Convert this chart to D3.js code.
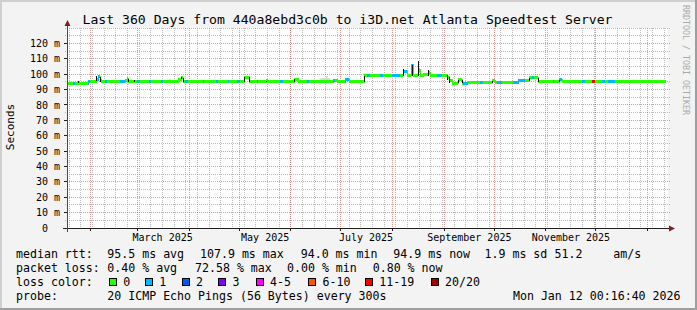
<!DOCTYPE html>
<html><head><meta charset="utf-8">
<script src="https://cdn.jsdelivr.net/npm/d3@7"></script>
<style>
html,body{margin:0;padding:0;background:#f3f3f3;}
svg{display:block;}
text{font-family:"DejaVu Sans Mono",monospace;fill:#000;}
</style></head><body>
<svg id="chart" width="697" height="310"></svg>
<script>
// ---------------- data ----------------
const titleText = "Last 360 Days from 440a8ebd3c0b to i3D.net Atlanta Speedtest Server";
const yAxisTitle = "Seconds";
const watermark = "RRDTOOL / TOBI OETIKER";
const windowStart = "2025-01-17T00:16:40Z";
const windowEnd = "2026-01-12T00:16:40Z";
const yTickValues = [0, 10, 20, 30, 40, 50, 60, 70, 80, 90, 100, 110, 120];
const yTickLabels = ["0", "10 m", "20 m", "30 m", "40 m", "50 m", "60 m", "70 m", "80 m", "90 m", "100 m", "110 m", "120 m"];
const monthLabels = ["March 2025", "May 2025", "July 2025", "September 2025", "November 2025"];
const monthLabelDates = ["2025-03-16T00", "2025-05-16T12", "2025-07-16T00", "2025-09-16T00", "2025-11-16T00"];

// median rtt (ms), step segments starting at each date, with pings lost (of 20)
const segDates = [
 "2025-01-17T00","2025-01-21T00","2025-01-22T12","2025-01-30T12","2025-01-31T12","2025-02-04T00","2025-02-05T00","2025-02-06T12",
 "2025-02-07T00","2025-02-09T12","2025-02-10T12","2025-02-18T12","2025-02-21T12","2025-02-22T12","2025-02-23T12","2025-02-28T12",
 "2025-03-02T12","2025-03-08T00","2025-03-09T00","2025-03-15T00","2025-03-16T00","2025-03-25T12","2025-03-27T00","2025-03-28T12",
 "2025-03-29T12","2025-03-31T00","2025-04-09T00","2025-04-10T00","2025-04-17T00","2025-04-18T00","2025-04-24T00","2025-04-25T00",
 "2025-04-29T12","2025-05-01T12","2025-05-04T00","2025-05-07T00","2025-05-11T12","2025-05-12T12","2025-05-17T00","2025-05-18T12",
 "2025-05-25T12","2025-05-27T00","2025-06-03T00","2025-06-05T12","2025-06-10T12","2025-06-12T00","2025-06-26T00","2025-06-27T12",
 "2025-06-28T12","2025-07-03T12","2025-07-06T00","2025-07-15T00","2025-07-16T12","2025-07-18T12","2025-07-24T12","2025-07-26T00",
 "2025-07-31T12","2025-08-05T12","2025-08-07T00","2025-08-09T12","2025-08-12T00","2025-08-13T12","2025-08-16T00","2025-08-17T12",
 "2025-08-19T00","2025-08-22T00","2025-08-23T12","2025-08-27T12","2025-08-30T12","2025-09-02T12","2025-09-04T00","2025-09-05T12",
 "2025-09-09T12","2025-09-11T12","2025-09-12T00","2025-09-15T00","2025-09-22T12","2025-09-24T12","2025-09-29T12","2025-10-01T12",
 "2025-10-02T12","2025-10-05T12","2025-10-12T12","2025-10-15T12","2025-10-19T12","2025-10-22T00","2025-10-23T12","2025-10-25T00",
 "2025-10-27T12","2025-11-05T00","2025-11-06T00","2025-11-09T00","2025-11-10T12","2025-11-22T12","2025-11-24T12","2025-11-28T12",
 "2025-11-30T12","2025-12-04T12","2025-12-06T12","2025-12-08T12","2025-12-12T12"
];
const segMedian = [
 94.3,94.3,94.0,95.0,95.2,96.5,98.3,96.3,
 95.0,95.0,95.0,95.0,96.0,97.0,95.0,95.0,
 95.0,95.0,95.0,95.0,95.0,96.5,97.7,95.0,
 95.0,95.0,95.0,95.0,95.0,95.0,95.0,95.0,
 95.0,95.0,98.0,95.0,95.0,95.0,95.8,95.0,
 95.0,95.0,96.7,95.0,95.0,95.0,96.0,96.0,
 95.0,96.5,95.0,99.0,99.0,99.0,99.0,99.0,
 99.0,99.0,101.8,99.2,105.8,99.4,102.7,99.0,
 100.0,101.0,99.5,99.5,99.5,98.0,96.0,94.3,
 96.3,94.3,94.3,94.6,94.7,94.7,95.8,94.4,
 94.4,94.4,94.4,95.8,95.8,97.7,97.7,97.7,
 95.1,95.1,95.1,96.5,95.1,95.1,95.1,95.1,
 95.1,95.1,95.1,95.1,95.1
];
const segLoss = [
 0,1,0,1,0,0,1,0,
 0,1,0,1,0,0,0,1,
 0,1,0,1,0,0,0,0,
 1,0,1,0,1,0,1,0,
 1,0,0,0,1,0,0,0,
 1,0,0,0,1,0,1,0,
 0,1,0,0,1,0,1,0,
 1,0,1,0,1,0,0,0,
 0,0,0,1,0,0,0,0,
 0,0,1,0,1,0,0,0,
 1,0,1,1,0,0,1,0,
 0,1,0,1,0,1,0,12,
 0,1,0,1,0
];

// dark smoke (spread of pings) where the median jumps
const darkDates = ["2025-01-24T12","2025-02-04T00","2025-02-06T12","2025-02-23T00","2025-02-27T00","2025-03-27T00","2025-03-28T12",
 "2025-05-04T00","2025-05-07T00","2025-05-17T00","2025-06-03T00","2025-07-15T00","2025-08-07T00","2025-08-12T12","2025-08-16T00",
 "2025-08-22T00","2025-09-02T12","2025-09-04T00","2025-09-09T12","2025-09-11T12","2025-09-29T12","2025-10-22T00","2025-10-27T12","2025-11-09T00"];
const darkLow  = [94.0,95.0,95.0,95.0,95.0,96.5,95.0,95.0,95.0,95.0,95.0,95.0,99.0,99.0,99.0,99.3,96.0,94.3,94.3,94.3,94.7,95.8,95.1,95.1];
const darkHigh = [95.5,98.5,98.3,97.0,96.5,98.0,97.7,98.2,98.0,95.8,96.7,99.0,103.4,106.0,108.6,103.0,99.5,98.0,96.5,96.3,95.8,97.7,97.7,96.5];

// light smoke
const lightDates = ["2025-03-20T00","2025-03-21T00","2025-06-18T12","2025-06-20T12","2025-06-22T00","2025-06-23T00","2025-06-24T12"];
const lightHigh  = [97.0, 95.0, 97.3, 97.5, 98.8, 97.4, 95.0];

const statHeads = ["median rtt:", "packet loss:", "loss color:", "probe:"];
const rttStats = ["95.5 ms avg", "107.9 ms max", "94.0 ms min", "94.9 ms now", "1.9 ms sd", "51.2", "am/s"];
const lossStats = ["0.40 % avg", "72.58 % max", "0.00 % min", "0.80 % now"];
const lossBins = ["0", "1", "2", "3", "4-5", "6-10", "11-19", "20/20"];
const lossColors = ["#26ff00", "#00b8ff", "#0059ff", "#7e00ff", "#ff00ff", "#ff5500", "#ff0000", "#a10000"];
const probeText = "20 ICMP Echo Pings (56 Bytes) every 300s";
const stampText = "Mon Jan 12 00:16:40 2026";

// ---------------- drawing ----------------
const W = 697, H = 310;
const svg = d3.select("#chart");
const pDate = d3.utcParse("%Y-%m-%dT%H");
const t0 = d3.isoParse(windowStart), t1 = d3.isoParse(windowEnd);
const x = d3.scaleUtc().domain([t0, t1]).range([66, 666]);
const y = d3.scaleLinear().domain([0, 130]).range([228, 28]);
const L = 67, R = 668, T = 28, B = 228;
const px = v => Math.floor(v) + 0.5;

function lossBin(n) {
  if (n <= 3) return n;
  if (n <= 5) return 4;
  if (n <= 10) return 5;
  if (n <= 19) return 6;
  return 7;
}

// background + frame
svg.append("rect").attr("width", W).attr("height", H).attr("fill", "#f3f3f3");
svg.append("path").attr("d", `M0,0H${W}V2H2V${H}H0Z`).attr("fill", "#cfcfcf");
svg.append("path").attr("d", `M${W},${H}H0V${H-2}H${W-2}V0H${W}Z`).attr("fill", "#9e9e9e");

// canvas
svg.append("rect").attr("x", L).attr("y", T).attr("width", R - L).attr("height", B - T).attr("fill", "#fff");

const grid = svg.append("g").attr("shape-rendering", "crispEdges");
const minorCol = "rgba(143,143,143,0.6)", majorCol = "rgba(222,79,79,0.6)";
d3.range(5, 131, 5).filter(v => v % 10 !== 0 || v === 130).forEach(v => {
  grid.append("line").attr("x1", L - 2).attr("x2", R + 2).attr("y1", px(y(v))).attr("y2", px(y(v)))
    .attr("stroke", minorCol).attr("stroke-dasharray", "1,1");
});
d3.utcWeek.range(t0, t1).forEach(d => {
  grid.append("line").attr("x1", px(x(d))).attr("x2", px(x(d))).attr("y1", T).attr("y2", B + 2)
    .attr("stroke", minorCol).attr("stroke-dasharray", "1,1");
});
yTickValues.filter(v => v > 0).forEach(v => {
  grid.append("line").attr("x1", L - 2).attr("x2", R + 2).attr("y1", px(y(v))).attr("y2", px(y(v)))
    .attr("stroke", majorCol).attr("stroke-dasharray", "1,1");
});
d3.utcMonth.range(t0, t1).forEach(d => {
  grid.append("line").attr("x1", px(x(d))).attr("x2", px(x(d))).attr("y1", T).attr("y2", B + 2)
    .attr("stroke", majorCol).attr("stroke-dasharray", "1,1");
});

// light smoke
const clipX = v => Math.max(L + 1, Math.min(R, v));
const lightArea = d3.area().x(d => x(d.d)).y0(y(95)).y1(d => y(d.v)).curve(d3.curveStepAfter);
const lightData = lightDates.map((s, i) => ({ d: pDate(s), v: lightHigh[i] }));
svg.append("path").datum(lightData.slice(0, 2)).attr("d", lightArea).attr("fill", "#d4d4d4");
svg.append("path").datum(lightData.slice(2)).attr("d", lightArea).attr("fill", "#d4d4d4");

// median band
const segs = segDates.map((s, i) => ({
  d0: pDate(s),
  d1: i < segDates.length - 1 ? pDate(segDates[i + 1]) : t1,
  v: segMedian[i],
  c: lossColors[lossBin(segLoss[i])]
}));
const band = svg.append("g").attr("shape-rendering", "crispEdges");
segs.forEach((s, i) => {
  const xa = Math.round(clipX(x(s.d0))), xb = Math.round(clipX(x(s.d1)));
  band.append("rect").attr("x", xa).attr("width", Math.max(1, xb - xa))
    .attr("y", Math.round(y(s.v) - 1.4)).attr("height", 3).attr("fill", s.c);
  if (i > 0) {
    const pv = segs[i - 1].v;
    if (Math.abs(pv - s.v) > 0.4) {
      const ya = Math.min(y(pv), y(s.v)), yb = Math.max(y(pv), y(s.v));
      band.append("rect").attr("x", xa).attr("width", 1).attr("y", Math.round(ya - 1)).attr("height", Math.round(yb - ya + 2)).attr("fill", s.c);
    }
  }
});
darkDates.forEach((s, i) => {
  const xa = Math.round(x(pDate(s)));
  band.append("rect").attr("x", xa).attr("width", 1)
    .attr("y", Math.round(y(darkHigh[i]))).attr("height", Math.max(1, Math.round(y(darkLow[i]) - y(darkHigh[i]))))
    .attr("fill", "#111");
});

// axes
const axes = svg.append("g").attr("shape-rendering", "crispEdges");
axes.append("line").attr("x1", L - 4).attr("x2", R + 1).attr("y1", B + 0.5).attr("y2", B + 0.5).attr("stroke", "#1f1f1f");
axes.append("line").attr("x1", L + 0.5).attr("x2", L + 0.5).attr("y1", B + 4).attr("y2", T - 2).attr("stroke", "#4a4a4a");
yTickValues.forEach(v => {
  axes.append("line").attr("x1", L - 3).attr("x2", L).attr("y1", px(y(v))).attr("y2", px(y(v))).attr("stroke", "#1f1f1f");
});
d3.utcMonth.range(t0, t1).forEach(d => {
  axes.append("line").attr("x1", px(x(d))).attr("x2", px(x(d))).attr("y1", B).attr("y2", B + 3).attr("stroke", "#1f1f1f");
});
svg.append("path").attr("d", `M${L + 0.5},${T - 8} L${L + 3.5},${T - 2} L${L - 2.5},${T - 2} Z`).attr("fill", "#801f1f");
svg.append("path").attr("d", `M${R + 7},${B + 0.5} L${R + 1},${B - 2.5} L${R + 1},${B + 3.5} Z`).attr("fill", "#801f1f");

// y labels
svg.append("g").selectAll("text").data(yTickValues).join("text")
  .attr("x", 60).attr("y", v => y(v) + 3.6).attr("text-anchor", "end")
  .attr("font-size", "10px").attr("xml:space", "preserve").style("white-space", "pre")
  .text((v, i) => v === 0 ? "0  " : yTickLabels[i]);
// x labels
svg.append("g").selectAll("text").data(monthLabels).join("text")
  .attr("x", (s, i) => x(pDate(monthLabelDates[i]))).attr("y", 240.7).attr("text-anchor", "middle")
  .attr("font-size", "10px").text(s => s);

// title
svg.append("text").attr("x", 347.5).attr("y", 24).attr("text-anchor", "middle").attr("font-size", "13.15px").text(titleText);
svg.append("text").attr("transform", "translate(14,127) rotate(-90)").attr("text-anchor", "middle")
  .attr("font-size", "11px").text(yAxisTitle);
svg.append("text").attr("transform", "translate(683,5) rotate(90)").attr("font-size", "8.3px")
  .style("fill", "#aaaaaa").text(watermark);

// legend
const fs = "11.6px";
const base = [257.8, 271.8, 285.8, 299.6];
statHeads.forEach((s, i) => svg.append("text").attr("x", 16).attr("y", base[i]).attr("font-size", fs).text(s));
const rttX = [107.3, 200, 300.7, 393.3, 484.5, 554.5, 613.3];
rttStats.forEach((s, i) => svg.append("text").attr("x", rttX[i]).attr("y", base[0]).attr("font-size", fs).text(s));
const lossX = [107.3, 195, 287, 372.7];
lossStats.forEach((s, i) => svg.append("text").attr("x", lossX[i]).attr("y", base[1]).attr("font-size", fs).text(s));
const boxX = [109, 145, 181.7, 218.3, 255.7, 308.3, 365, 430.7];
lossBins.forEach((s, i) => {
  svg.append("rect").attr("x", Math.round(boxX[i]) + 0.5).attr("y", 278.5).attr("width", 7).attr("height", 7)
    .attr("fill", lossColors[i]).attr("stroke", "#000").attr("shape-rendering", "crispEdges");
  svg.append("text").attr("x", boxX[i] + 14.3).attr("y", base[2]).attr("font-size", fs).text(s);
});
svg.append("text").attr("x", 107.3).attr("y", base[3]).attr("font-size", fs).text(probeText);
svg.append("text").attr("x", 680.5).attr("y", base[3]).attr("text-anchor", "end").attr("font-size", fs).text(stampText);
</script>
</body></html>
